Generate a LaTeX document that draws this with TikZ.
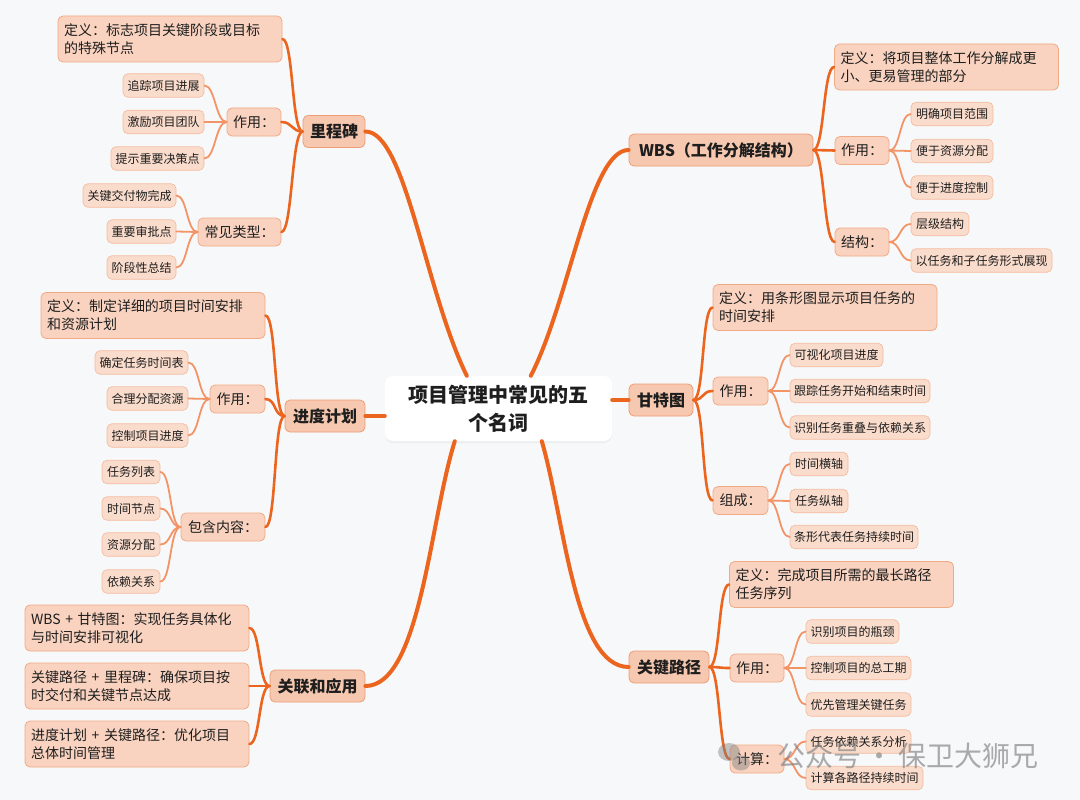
\documentclass[tikz,border=0pt]{standalone}
\usepackage{fontspec}
\setmainfont{Noto Sans CJK SC}
\usetikzlibrary{calc,shadows}
\definecolor{bg}{HTML}{F7F8FA}
\definecolor{mline}{HTML}{EC651F}
\definecolor{lline}{HTML}{F39467}
\definecolor{mfill}{HTML}{F7C8B0}
\definecolor{mdraw}{HTML}{EE9D75}
\definecolor{dfill}{HTML}{F9D3C0}
\definecolor{ddraw}{HTML}{F1AA86}
\definecolor{lfill}{HTML}{FADCCC}
\definecolor{ldraw}{HTML}{F4BC9F}
\definecolor{txt}{HTML}{1E1E1E}
\newcommand\Lk[3]{\draw[#1] (#2.west) .. controls ($(#2.west)+(-11,0)$) and ($(#3.east)+(11,0)$) .. (#3.east);}
\newcommand\Rk[3]{\draw[#1] (#2.east) .. controls ($(#2.east)+(11,0)$) and ($(#3.west)+(-11,0)$) .. (#3.west);}
\begin{document}
\begin{tikzpicture}[x=1pt,y=-1pt,
  rootbox/.style={fill=white, rounded corners=8pt, minimum width=227pt, minimum height=65pt, align=center,
    font=\fontsize{20}{28}\selectfont\bfseries, text=txt, inner sep=0pt,
    drop shadow={opacity=0.08, shadow xshift=0pt, shadow yshift=-2pt}},
  mainbox/.style={fill=mfill, draw=mdraw, line width=0.8pt, rounded corners=5pt, minimum height=32pt,
    inner sep=0pt, font=\fontsize{16}{20}\selectfont\bfseries, text=txt},
  midbox/.style={fill=dfill, draw=ddraw, line width=0.8pt, rounded corners=5pt, minimum height=28pt,
    inner sep=0pt, font=\fontsize{14}{18}\selectfont, text=txt},
  defbox/.style={midbox, minimum height=46pt, align=left, inner xsep=6pt, text width=212pt},
  leafbox/.style={fill=lfill, draw=ldraw, line width=0.7pt, rounded corners=5pt, minimum height=23.5pt,
    inner sep=0pt, font=\fontsize{12}{14}\selectfont, text=txt},
  trunk/.style={draw=mline, line width=4pt, line cap=round},
  branch/.style={draw=mline, line width=2.6pt, line cap=round},
  twig/.style={draw=lline, line width=1.8pt, line cap=round}]
\useasboundingbox (0,0) rectangle (1080,800);
\fill[bg] (0,0) rectangle (1080,800);

% root
\node[rootbox] (root) at (498.5,408.5) {项目管理中常见的五\\个名词};

% main branches
\node[mainbox, minimum width=62pt] (ms) at (334,131.5) {里程碑};
\node[mainbox, minimum width=80pt] (jd) at (325,416) {进度计划};
\node[mainbox, minimum width=95pt] (gl) at (317.5,686) {关联和应用};
\node[mainbox, minimum width=184pt] (wbs) at (721,150) {WBS（工作分解结构）};
\node[mainbox, minimum width=64pt] (gt) at (661,400) {甘特图};
\node[mainbox, minimum width=80pt] (gj) at (669,667) {关键路径};

% 里程碑
\node[defbox] (msdef) at (170,39) {定义：标志项目关键阶段或目标\\的特殊节点};
\node[midbox, minimum width=54pt] (mszy) at (254,122) {作用：};
\node[midbox, minimum width=83pt] (mslx) at (239.5,232) {常见类型：};
\node[leafbox, minimum width=81pt] (ms1) at (163.5,85.5) {追踪项目进展};
\node[leafbox, minimum width=81pt] (ms2) at (163.5,122) {激励项目团队};
\node[leafbox, minimum width=93pt] (ms3) at (157.5,158.5) {提示重要决策点};
\node[leafbox, minimum width=93pt] (ms4) at (129.5,195.5) {关键交付物完成};
\node[leafbox, minimum width=69pt] (ms5) at (141.5,231.5) {重要审批点};
\node[leafbox, minimum width=69pt] (ms6) at (141.5,267.5) {阶段性总结};

% 进度计划
\node[defbox] (jddef) at (153,315.5) {定义：制定详细的项目时间安排\\和资源计划};
\node[midbox, minimum width=55pt] (jdzy) at (237.5,399) {作用：};
\node[midbox, minimum width=84pt] (jdnr) at (223,527) {包含内容：};
\node[leafbox, minimum width=93pt] (jd1) at (141.5,362.5) {确定任务时间表};
\node[leafbox, minimum width=81pt] (jd2) at (147.5,398.5) {合理分配资源};
\node[leafbox, minimum width=81pt] (jd3) at (147.5,435.5) {控制项目进度};
\node[leafbox, minimum width=58pt] (jd4) at (131,472) {任务列表};
\node[leafbox, minimum width=58pt] (jd5) at (131,508.5) {时间节点};
\node[leafbox, minimum width=58pt] (jd6) at (131,544.5) {资源分配};
\node[leafbox, minimum width=58pt] (jd7) at (131,581.5) {依赖关系};

% 关联和应用
\node[defbox] (gl1) at (137,628) {WBS + 甘特图：实现任务具体化\\与时间安排可视化};
\node[defbox] (gl2) at (137,686) {关键路径 + 里程碑：确保项目按\\时交付和关键节点达成};
\node[defbox] (gl3) at (137,744) {进度计划 + 关键路径：优化项目\\总体时间管理};

% WBS
\node[defbox] (wbsdef) at (946.5,67) {定义：将项目整体工作分解成更\\小、更易管理的部分};
\node[midbox, minimum width=54pt] (wbszy) at (862,150.5) {作用：};
\node[midbox, minimum width=54pt] (wbsjg) at (862,242) {结构：};
\node[leafbox, minimum width=82pt] (wbs1) at (952,114) {明确项目范围};
\node[leafbox, minimum width=82pt] (wbs2) at (952,151) {便于资源分配};
\node[leafbox, minimum width=82pt] (wbs3) at (952,187.5) {便于进度控制};
\node[leafbox, minimum width=58pt] (wbs4) at (940,224) {层级结构};
\node[leafbox, minimum width=141pt] (wbs5) at (981.5,260.5) {以任务和子任务形式展现};

% 甘特图
\node[defbox] (gtdef) at (825,307.5) {定义：用条形图显示项目任务的\\时间安排};
\node[midbox, minimum width=55pt] (gtzy) at (740.5,391) {作用：};
\node[midbox, minimum width=55pt] (gtzc) at (740.5,500.5) {组成：};
\node[leafbox, minimum width=93pt] (gt1) at (836.5,355) {可视化项目进度};
\node[leafbox, minimum width=140pt] (gt2) at (860,391) {跟踪任务开始和结束时间};
\node[leafbox, minimum width=140pt] (gt3) at (860,427.5) {识别任务重叠与依赖关系};
\node[leafbox, minimum width=58pt] (gt4) at (819,464) {时间横轴};
\node[leafbox, minimum width=58pt] (gt5) at (819,501) {任务纵轴};
\node[leafbox, minimum width=128pt] (gt6) at (854,537) {条形代表任务持续时间};

% 关键路径
\node[defbox] (gjdef) at (841.5,584.5) {定义：完成项目所需的最长路径\\任务序列};
\node[midbox, minimum width=54pt] (gjzy) at (757,668) {作用：};
\node[midbox, minimum width=54pt] (gjjs) at (757,759) {计算：};
\node[leafbox, minimum width=93pt] (gj1) at (852.5,631.5) {识别项目的瓶颈};
\node[leafbox, minimum width=105pt] (gj2) at (858.5,668) {控制项目的总工期};
\node[leafbox, minimum width=105pt] (gj3) at (858.5,704.5) {优先管理关键任务};
\node[leafbox, minimum width=105pt] (gj4) at (858.5,741.5) {任务依赖关系分析};
\node[leafbox, minimum width=117pt] (gj5) at (864.5,778) {计算各路径持续时间};

% trunks
\coordinate (rTL) at ($(root.north west)+(82,0)$);
\coordinate (rTR) at ($(root.north west)+(146,0)$);
\coordinate (rBL) at ($(root.south west)+(70,0)$);
\coordinate (rBR) at ($(root.south west)+(157,0)$);
\draw[trunk] (ms.east) .. controls ($(ms.east)+(40,0)$) and ($(rTL)+(-42,-86)$) .. (rTL);
\draw[trunk] (wbs.west) .. controls ($(wbs.west)+(-39,0)$) and ($(rTR)+(39,-76)$) .. (rTR);
\draw[trunk] (rBL) .. controls ($(rBL)+(-25,79)$) and ($(gl.east)+(55,0)$) .. (gl.east);
\draw[trunk] (rBR) .. controls ($(rBR)+(23,79)$) and ($(gj.west)+(-54,0)$) .. (gj.west);
\draw[trunk] (jd.east) -- (root.west |- jd.east);
\draw[trunk] (gt.west) -- (root.east |- gt.west);

% branches
\Lk{branch}{ms}{msdef}\Lk{branch}{ms}{mszy}\Lk{branch}{ms}{mslx}
\Lk{branch}{jd}{jddef}\Lk{branch}{jd}{jdzy}\Lk{branch}{jd}{jdnr}
\Lk{branch}{gl}{gl1}\Lk{branch}{gl}{gl2}\Lk{branch}{gl}{gl3}
\Rk{branch}{wbs}{wbsdef}\Rk{branch}{wbs}{wbszy}\Rk{branch}{wbs}{wbsjg}
\Rk{branch}{gt}{gtdef}\Rk{branch}{gt}{gtzy}\Rk{branch}{gt}{gtzc}
\Rk{branch}{gj}{gjdef}\Rk{branch}{gj}{gjzy}\Rk{branch}{gj}{gjjs}

% twigs
\Lk{twig}{mszy}{ms1}\Lk{twig}{mszy}{ms2}\Lk{twig}{mszy}{ms3}
\Lk{twig}{mslx}{ms4}\Lk{twig}{mslx}{ms5}\Lk{twig}{mslx}{ms6}
\Lk{twig}{jdzy}{jd1}\Lk{twig}{jdzy}{jd2}\Lk{twig}{jdzy}{jd3}
\Lk{twig}{jdnr}{jd4}\Lk{twig}{jdnr}{jd5}\Lk{twig}{jdnr}{jd6}\Lk{twig}{jdnr}{jd7}
\Rk{twig}{wbszy}{wbs1}\Rk{twig}{wbszy}{wbs2}\Rk{twig}{wbszy}{wbs3}
\Rk{twig}{wbsjg}{wbs4}\Rk{twig}{wbsjg}{wbs5}
\Rk{twig}{gtzy}{gt1}\Rk{twig}{gtzy}{gt2}\Rk{twig}{gtzy}{gt3}
\Rk{twig}{gtzc}{gt4}\Rk{twig}{gtzc}{gt5}\Rk{twig}{gtzc}{gt6}
\Rk{twig}{gjzy}{gj1}\Rk{twig}{gjzy}{gj2}\Rk{twig}{gjzy}{gj3}
\Rk{twig}{gjjs}{gj4}\Rk{twig}{gjjs}{gj5}

% watermark
\fill[gray, opacity=0.45] (729,752) ellipse [x radius=11, y radius=9];
\fill[gray, opacity=0.45] (741,763) ellipse [x radius=9, y radius=7.5];
\node[font=\fontsize{28}{30}\selectfont, text=gray, opacity=0.65] (wm) at (908,756) {公众号\,·\,保卫大狮兄};
\end{tikzpicture}
\end{document}
